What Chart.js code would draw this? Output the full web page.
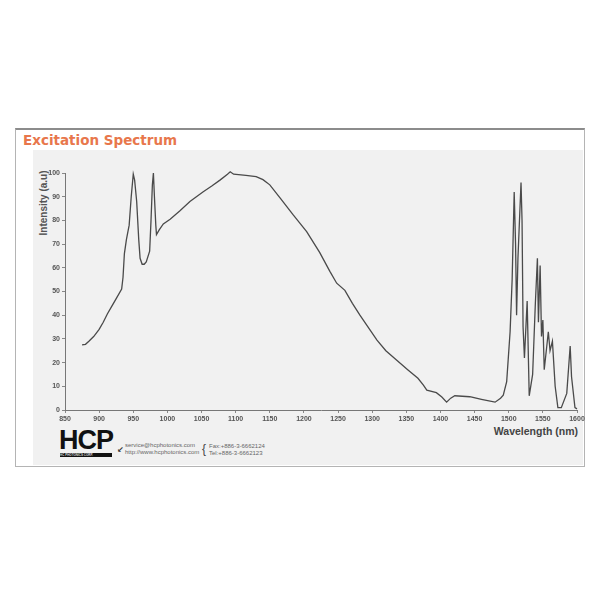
<!DOCTYPE html>
<html>
<head>
<meta charset="utf-8">
<script src="https://cdn.jsdelivr.net/npm/chart.js@4"></script>
<style>
  html, body { margin: 0; padding: 0; background: #fff; }
  #wrap { position: relative; width: 600px; height: 600px; overflow: hidden; }
  #frame { position: absolute; left: 15px; top: 128px; width: 570px; height: 339px;
           border: 1px solid #b4b4b4; border-top: 2px solid #8c8c8c; box-sizing: border-box; }
  #panel { position: absolute; left: 33px; top: 150px; width: 550px; height: 315px; background: #f1f1f1; }
  #title { position: absolute; left: 23px; top: 132px; font: bold 13.5px "DejaVu Sans", sans-serif;
           color: #e8774c; letter-spacing: 0px; }
  #ytitle { position: absolute; left: 43px; top: 203px; transform: translate(-50%, -50%) rotate(-90deg);
            font: bold 10px "Liberation Sans", sans-serif; color: #555; white-space: nowrap; }
  #xtitle { position: absolute; right: 22px; top: 425px; font: bold 10.5px "Liberation Sans", sans-serif;
            color: #444; white-space: nowrap; }
  #logo { position: absolute; left: 59px; top: 427px; font: bold 27px "Liberation Sans", sans-serif;
          color: #111; letter-spacing: -1px; line-height: 26px; }
  #logobar { position: absolute; left: 60px; top: 453px; width: 52px; height: 4px; background: #111;
             color: #ddd; font: bold 3px "Liberation Sans", sans-serif; line-height: 4px; white-space: nowrap; overflow: hidden; }
  .small { position: absolute; font: 6px "Liberation Sans", sans-serif; color: #666; white-space: nowrap; line-height: 7px; }
  canvas { position: absolute; left: 0; top: 0; }
</style>
</head>
<body>
<div id="wrap">
  <div id="frame"></div>
  <div id="panel"></div>
  <div id="title">Excitation Spectrum</div>
  <div id="ytitle">Intensity (a.u)</div>
  <div id="xtitle">Wavelength (nm)</div>
  <div id="logo">HCP</div>
  <div id="logobar">HC PHOTONICS CORP.</div>
  <div class="small" style="left:117px;top:445px;font:bold 8px 'DejaVu Sans';color:#333">&#8601;</div>
  <div class="small" style="left:125px;top:442px">service@hcphotonics.com</div>
  <div class="small" style="left:125px;top:449px">http://www.hcphotonics.com</div>
  <div class="small" style="left:202px;top:443px;font-size:12px;line-height:13px;color:#444">{</div>
  <div class="small" style="left:209px;top:443px">Fax:+886-3-6662124</div>
  <div class="small" style="left:209px;top:450px">Tel:+886-3-6662123</div>
  <canvas id="c" width="600" height="600"></canvas>
</div>
<script>
// ---------------------------------------------------------------
// Spettro (nm, intensità a.u.)
// ---------------------------------------------------------------
const WAVELENGTH = [
  875, 880, 885, 892, 900, 906, 912, 918, 925, 933,
  935, 937, 940, 944, 947, 950, 952, 955, 958, 960,
  963, 966, 969, 974, 976, 978, 979.5, 981, 983, 984,
  988, 994, 1004, 1018, 1033, 1052, 1065, 1077, 1088, 1092,
  1097, 1115, 1130, 1140, 1150, 1165, 1184, 1204, 1223, 1238,
  1248, 1260, 1271, 1282, 1295, 1307, 1320, 1336, 1352, 1367,
  1375, 1380, 1394, 1402, 1409, 1415, 1421, 1443, 1460, 1480,
  1488, 1492, 1497, 1502, 1505, 1508, 1510, 1511.5, 1513.5, 1518,
  1519.5, 1521, 1523, 1527, 1530, 1535, 1539, 1542, 1543.5, 1546,
  1548, 1550, 1552, 1555, 1558, 1560.5, 1564, 1568, 1572, 1577,
  1585, 1590, 1592, 1597, 1600
];
const INTENSITY = [
  27.5, 27.7, 29, 31, 34, 37, 40.5, 43.5, 47, 51,
  56, 66, 72, 78, 90, 99.5, 97, 88, 72, 64,
  61.5, 61.5, 62.5, 67, 80, 95, 100, 90, 78, 74,
  76, 78.5, 80.5, 84, 88, 92, 94.5, 97, 99.5, 100.5,
  99.5, 99, 98.5, 97.2, 95, 89.5, 82.4, 75.3, 66.5, 58.5,
  53.5, 50.5, 45, 40, 34.5, 29.5, 25, 21, 17, 13.4,
  10.5, 8.4, 7.3, 5.5, 3.3, 5, 6, 5.6, 4.5, 3.3,
  5, 6.3, 12, 33, 55, 92, 70, 40, 64, 96,
  80, 35, 22, 46, 6, 15, 45, 64, 37, 61,
  31, 38, 17, 25, 33, 25, 29, 10, 1, 1,
  7, 27, 14, 1, 0.5
];

const X_MIN = 850, X_MAX = 1600, X_STEP = 50;
const Y_MIN = 0,   Y_MAX = 100,  Y_STEP = 10;

const TICK_FONT = { family: 'Liberation Sans', size: 7, weight: 'bold' };

new Chart(document.getElementById('c').getContext('2d'), {
  type: 'line',
  data: {
    datasets: [{
      data: WAVELENGTH.map((w, i) => ({ x: w, y: INTENSITY[i] })),
      borderColor: '#4a4a4a',
      borderWidth: 1.3,
      pointRadius: 0,
      tension: 0,
      clip: false,
      fill: false
    }]
  },
  options: {
    responsive: false,
    animation: false,
    layout: { padding: { left: 0, top: 173, right: 23, bottom: 150 } },
    plugins: { legend: { display: false }, tooltip: { enabled: false } },
    scales: {
      x: {
        type: 'linear', min: X_MIN, max: X_MAX,
        afterFit: s => { s.height = 40; },
        ticks: { stepSize: X_STEP, color: '#555', font: TICK_FONT, padding: 2, maxRotation: 0,
                 callback: v => String(v) },
        grid: { drawOnChartArea: false, tickLength: 3, color: '#888' },
        border: { color: '#777', width: 1 }
      },
      y: {
        min: Y_MIN, max: Y_MAX,
        afterFit: s => { s.width = 65; },
        ticks: { stepSize: Y_STEP, color: '#555', font: TICK_FONT, padding: 2,
                 callback: v => String(v) },
        grid: { drawOnChartArea: false, tickLength: 3, color: '#888' },
        border: { color: '#777', width: 1 }
      }
    }
  }
});
</script>
</body>
</html>
